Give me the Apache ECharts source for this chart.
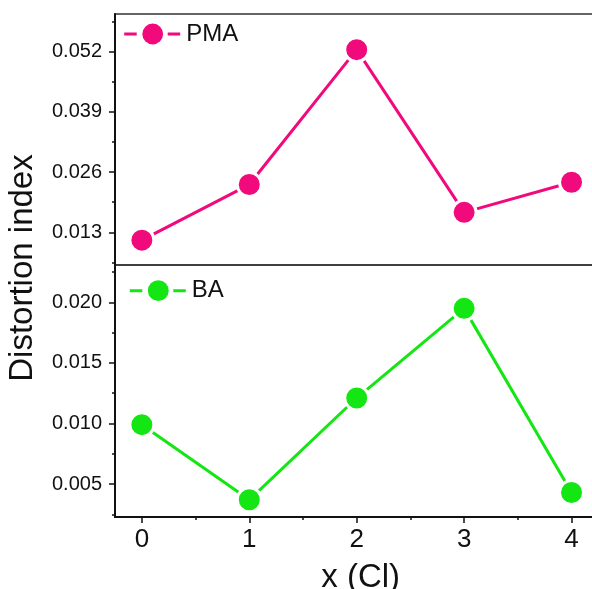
<!DOCTYPE html>
<html><head><meta charset="utf-8">
<script src="https://cdn.jsdelivr.net/npm/echarts@6/dist/echarts.min.js"></script>
<style>html,body{margin:0;padding:0;background:#fff}#c{width:592px;height:589px}</style>
</head><body><div id="c"></div>
<script>
const xValues = [0, 1, 2, 3, 4];
const pmaValues = [0.0113, 0.0233, 0.0524, 0.0173, 0.0238];
const baValues = [0.0099, 0.0037, 0.0121, 0.0195, 0.0043];
const xTickLabels = [0, 1, 2, 3, 4];
const xMinorTicks = [0.5, 1.5, 2.5, 3.5];
const pmaTickLabels = [0.013, 0.026, 0.039, 0.052];
const pmaMinorTicks = [0.0065, 0.0195, 0.0325, 0.0455, 0.0585];
const baTickLabels = [0.005, 0.010, 0.015, 0.020];
const baMinorTicks = [0.0025, 0.0075, 0.0125, 0.0175, 0.0225];

const FONT = "'Liberation Sans', Arial, sans-serif";
const PINK = '#f00a7c';
const GREEN = '#14e614';
const INK = '#111';
const X_MIN = -0.25, X_MAX = 4.25;
const TOP_MIN = 0.00594, TOP_MAX = 0.0601;
const BOT_MIN = 0.00228, BOT_MAX = 0.02308;

const gTop = {left: 115, top: 14, width: 483.4, height: 251, outerBoundsMode: 'none', containLabel: false};
const gBot = {left: 115, top: 265, width: 483.4, height: 252, outerBoundsMode: 'none', containLabel: false};

const chart = echarts.init(document.getElementById('c'), null, {renderer: 'canvas'});

function hiddenX(gridIndex) {
  return {type: 'value', gridIndex, min: X_MIN, max: X_MAX, show: false};
}
function hiddenY(gridIndex, min, max) {
  return {type: 'value', gridIndex, min, max, show: false};
}
function labelY(gridIndex, min, max, labels) {
  return {
    type: 'value', gridIndex, min, max, position: 'left',
    axisLine: {show: true, onZero: false, lineStyle: {color: INK, width: 2}},
    axisTick: {show: false},
    axisLabel: {show: true, customValues: labels, margin: 13, color: INK, fontSize: 20, fontFamily: FONT,
      formatter: v => v.toFixed(3)},
    splitLine: {show: false}
  };
}
function tickY(gridIndex, min, max, ticks, len) {
  return {
    type: 'value', gridIndex, min, max, position: 'left',
    axisLine: {show: false, onZero: false},
    axisTick: {show: true, inside: false, length: len, customValues: ticks, lineStyle: {color: INK, width: 1.5}},
    axisLabel: {show: false},
    splitLine: {show: false}
  };
}
function tickX(gridIndex, ticks, len) {
  return {
    type: 'value', gridIndex, min: X_MIN, max: X_MAX, position: 'bottom',
    axisLine: {show: false, onZero: false},
    axisTick: {show: true, inside: false, length: len, customValues: ticks, lineStyle: {color: INK, width: 1.5}},
    axisLabel: {show: false},
    splitLine: {show: false}
  };
}

const legendCommon = {
  orient: 'horizontal', padding: 0, itemWidth: 57, itemHeight: 26,
  textStyle: {fontSize: 24, fontFamily: FONT, color: INK},
  itemStyle: {borderWidth: 0},
  lineStyle: {width: 3, type: [12.5, 31]}
};

const frame = {show: true, borderColor: '#333', borderWidth: 1.5, backgroundColor: 'transparent'};

chart.setOption({
  backgroundColor: '#fff',
  animation: false,
  grid: [
    Object.assign({}, frame, gTop),          // 0 top panel (data + labels)
    Object.assign({}, frame, gBot),          // 1 bottom panel (data + labels)
    Object.assign({show: false}, gTop),      // 2 top major ticks
    Object.assign({show: false}, gBot),      // 3 bottom major ticks
    Object.assign({show: false}, gTop),      // 4 top minor ticks
    Object.assign({show: false}, gBot)       // 5 bottom minor ticks
  ],
  legend: [
    Object.assign({data: ['PMA'], left: 122.7, top: 22}, legendCommon),
    Object.assign({data: ['BA'], left: 128.3, top: 278.7}, legendCommon)
  ],
  xAxis: [
    hiddenX(0),
    {
      type: 'value', gridIndex: 1, min: X_MIN, max: X_MAX, position: 'bottom',
      axisLine: {show: true, onZero: false, lineStyle: {color: INK, width: 2}},
      axisTick: {show: false},
      axisLabel: {show: true, customValues: xTickLabels, margin: 10, color: INK, fontSize: 26, fontFamily: FONT},
      splitLine: {show: false},
      name: 'x (Cl)', nameLocation: 'middle', nameGap: 44,
      nameTextStyle: {fontSize: 33, fontFamily: FONT, color: INK, padding: [0, 0, 0, 8]}
    },
    hiddenX(2),
    tickX(3, xTickLabels, 6),
    hiddenX(4),
    tickX(5, xMinorTicks, 3)
  ],
  yAxis: [
    labelY(0, TOP_MIN, TOP_MAX, pmaTickLabels),
    labelY(1, BOT_MIN, BOT_MAX, baTickLabels),
    tickY(2, TOP_MIN, TOP_MAX, pmaTickLabels, 6),
    tickY(3, BOT_MIN, BOT_MAX, baTickLabels, 6),
    tickY(4, TOP_MIN, TOP_MAX, pmaMinorTicks, 3),
    tickY(5, BOT_MIN, BOT_MAX, baMinorTicks, 3)
  ],
  graphic: [{
    type: 'text', x: 23, y: 268, rotation: Math.PI / 2,
    style: {text: 'Distortion index', fontSize: 33, fontFamily: FONT, fill: INK,
      textAlign: 'center', textVerticalAlign: 'middle'}
  }],
  series: [
    {
      name: 'PMA', type: 'line', xAxisIndex: 0, yAxisIndex: 0,
      data: xValues.map((x, i) => [x, pmaValues[i]]),
      symbol: 'circle', symbolSize: 24,
      lineStyle: {color: PINK, width: 3},
      itemStyle: {color: PINK, borderColor: '#fff', borderWidth: 3}
    },
    {
      name: 'BA', type: 'line', xAxisIndex: 1, yAxisIndex: 1,
      data: xValues.map((x, i) => [x, baValues[i]]),
      symbol: 'circle', symbolSize: 24,
      lineStyle: {color: GREEN, width: 3},
      itemStyle: {color: GREEN, borderColor: '#fff', borderWidth: 3}
    }
  ]
});
</script>
</body></html>
